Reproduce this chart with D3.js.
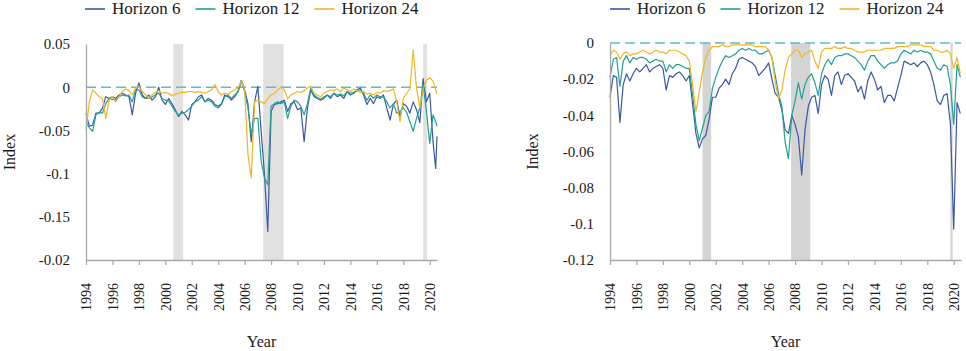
<!DOCTYPE html>
<html>
<head>
<meta charset="utf-8">
<script src="https://cdn.jsdelivr.net/npm/d3@7"></script>
<style>
  body { margin: 0; background: #fff; }
  svg text { font-family: "Liberation Serif", "DejaVu Serif", serif !important; fill: #1a1a1a; }
</style>
</head>
<body>
<div id="chart"></div>
<script>
// two panels of the same index, three forecast horizons each
var seriesNames = ['Horizon 6', 'Horizon 12', 'Horizon 24'];
var yearTicks = d3.range(1994, 2021, 2);

// left panel, quarterly readings (last two points are mid-2020)
var leftDates = d3.range(1994, 2020.3, 0.25).concat([2020.45, 2020.55]);
var leftH6 = [
  -0.030, -0.045, -0.044, -0.030,
  -0.030, -0.024, -0.011, -0.013,
  -0.011, -0.013, -0.009, -0.007,
  -0.009, -0.011, -0.032, -0.007,
   0.005, -0.009, -0.013, -0.009,
  -0.015, -0.011,  0.000, -0.015,
  -0.020, -0.013, -0.019, -0.026,
  -0.034, -0.028, -0.032, -0.038,
  -0.020, -0.017, -0.011, -0.009,
  -0.017, -0.013, -0.015, -0.020,
  -0.022, -0.019, -0.009, -0.011,
  -0.015, -0.011, -0.005,  0.008,
  -0.003, -0.019, -0.063, -0.017,
   0.001, -0.051, -0.101, -0.167,
  -0.028, -0.020, -0.019, -0.017,
  -0.015, -0.028, -0.019, -0.017,
  -0.026, -0.024, -0.063, -0.024,
  -0.003, -0.011, -0.013, -0.015,
  -0.013, -0.009, -0.013, -0.007,
  -0.011, -0.009, -0.013, -0.005,
  -0.009, -0.007, -0.003, -0.001,
  -0.009, -0.020, -0.013, -0.019,
  -0.011, -0.013, -0.009, -0.024,
  -0.038, -0.020, -0.015, -0.034,
  -0.019, -0.022, -0.030, -0.017,
  -0.026, -0.041,  0.010, -0.017,
  -0.007, -0.063, -0.094, -0.057
];
var leftH12 = [
  -0.040, -0.047, -0.051, -0.032,
  -0.029, -0.030, -0.019, -0.013,
  -0.014, -0.015, -0.011, -0.009,
  -0.010, -0.009, -0.017, -0.003,
  -0.003, -0.011, -0.013, -0.013,
  -0.011, -0.009, -0.007, -0.013,
  -0.015, -0.016, -0.022, -0.028,
  -0.032, -0.030, -0.029, -0.026,
  -0.022, -0.017, -0.015, -0.011,
  -0.017, -0.015, -0.017, -0.022,
  -0.024, -0.020, -0.011, -0.009,
  -0.013, -0.009, -0.005,  0.007,
  -0.005, -0.024, -0.055, -0.036,
  -0.036, -0.086, -0.105, -0.113,
  -0.022, -0.019, -0.017, -0.019,
  -0.017, -0.036, -0.022, -0.015,
  -0.017, -0.022, -0.032, -0.019,
  -0.001, -0.009, -0.012, -0.014,
  -0.011, -0.009, -0.011, -0.007,
  -0.009, -0.008, -0.010, -0.005,
  -0.007, -0.006, -0.004, -0.003,
  -0.007, -0.015, -0.009, -0.013,
  -0.009, -0.011, -0.011, -0.017,
  -0.024, -0.019, -0.030, -0.028,
  -0.024, -0.029, -0.040, -0.051,
  -0.036, -0.024,  0.003, -0.028,
  -0.065, -0.032, -0.040, -0.045
];
var leftH24 = [
  -0.050, -0.017, -0.003, -0.007,
  -0.011, -0.013, -0.036, -0.015,
  -0.011, -0.017, -0.011, -0.005,
  -0.002, -0.004, -0.009, -0.001,
   0.001, -0.005, -0.009, -0.013,
  -0.009, -0.006, -0.004, -0.007,
  -0.006, -0.007, -0.010, -0.008,
  -0.007, -0.006, -0.006, -0.005,
  -0.005, -0.006, -0.005, -0.006,
  -0.007, -0.005, -0.003,  0.003,
  -0.005, -0.009, -0.007, -0.008,
  -0.005, -0.003, -0.001,  0.007,
  -0.003, -0.078, -0.105, -0.017,
  -0.015, -0.017, -0.019, -0.013,
  -0.009, -0.007, -0.003,  0.000,
  -0.003, -0.013, -0.009, -0.007,
  -0.005, -0.006, -0.004, -0.001,
   0.001, -0.007, -0.009, -0.011,
  -0.007, -0.005, -0.003, -0.004,
  -0.002, -0.005, -0.001, -0.003,
  -0.005, -0.002, -0.004, -0.006,
  -0.005, -0.008, -0.007, -0.009,
  -0.006, -0.007, -0.004, -0.005,
  -0.004, -0.002, -0.017, -0.040,
  -0.013, -0.007, -0.002,  0.043,
  -0.001, -0.024, -0.003,  0.008,
   0.011,  0.007, -0.003, -0.008
];
var leftRecessions = [[2000.6, 2001.35], [2007.4, 2008.95], [2019.5, 2019.8]];
var leftYTicks = [0.05, 0, -0.05, -0.1, -0.15, -0.2];
var leftYLabels = ['0.05', '0', '-0.05', '-0.1', '-0.15', '-0.02'];

// right panel, quarterly readings
var rightDates = d3.range(1994, 2020.51, 0.25);
var rightH6 = [
  -0.030, -0.018, -0.019, -0.044,
  -0.023, -0.017, -0.021, -0.017,
  -0.014, -0.016, -0.014, -0.012,
  -0.016, -0.014, -0.013, -0.012,
  -0.014, -0.026, -0.018, -0.019,
  -0.017, -0.016, -0.018, -0.021,
  -0.018, -0.034, -0.050, -0.058,
  -0.053, -0.051, -0.042, -0.030,
  -0.030, -0.025, -0.023, -0.020,
  -0.023, -0.017, -0.014, -0.009,
  -0.008, -0.009, -0.010, -0.011,
  -0.013, -0.018, -0.016, -0.014,
  -0.011, -0.020, -0.028, -0.030,
  -0.037, -0.048, -0.050, -0.040,
  -0.045, -0.052, -0.073, -0.048,
  -0.035, -0.030, -0.029, -0.039,
  -0.023, -0.018, -0.020, -0.029,
  -0.018, -0.016, -0.023, -0.018,
  -0.017, -0.019, -0.021, -0.027,
  -0.024, -0.031, -0.021, -0.016,
  -0.020, -0.026, -0.024, -0.033,
  -0.029, -0.029, -0.032, -0.025,
  -0.018, -0.010, -0.011, -0.012,
  -0.011, -0.013, -0.011, -0.010,
  -0.012, -0.016, -0.023, -0.032,
  -0.034, -0.029, -0.028, -0.045,
  -0.103, -0.033, -0.039
];
var rightH12 = [
  -0.019, -0.009, -0.008, -0.024,
  -0.010, -0.007, -0.011, -0.008,
  -0.009, -0.008, -0.008, -0.009,
  -0.011, -0.010, -0.009, -0.010,
  -0.010, -0.016, -0.012, -0.014,
  -0.012, -0.012, -0.013, -0.014,
  -0.014, -0.029, -0.045, -0.054,
  -0.047, -0.040, -0.038, -0.025,
  -0.019, -0.014, -0.010, -0.007,
  -0.008, -0.007, -0.006, -0.004,
  -0.003, -0.004, -0.003, -0.004,
  -0.004, -0.006, -0.006, -0.005,
  -0.004, -0.008, -0.018, -0.028,
  -0.035, -0.055, -0.064, -0.040,
  -0.032, -0.022, -0.031, -0.023,
  -0.019, -0.017, -0.022, -0.029,
  -0.017, -0.012, -0.009, -0.012,
  -0.008, -0.007, -0.007, -0.006,
  -0.006, -0.007, -0.008, -0.010,
  -0.012, -0.015, -0.010, -0.007,
  -0.007, -0.010, -0.012, -0.014,
  -0.012, -0.011, -0.011, -0.010,
  -0.006, -0.004, -0.005, -0.006,
  -0.004, -0.005, -0.004, -0.005,
  -0.005, -0.006, -0.010, -0.014,
  -0.015, -0.012, -0.013, -0.023,
  -0.045, -0.012, -0.019
];
var rightH24 = [
  -0.007, -0.004, -0.005, -0.009,
  -0.006, -0.005, -0.007, -0.006,
  -0.006, -0.005, -0.004, -0.005,
  -0.006, -0.005, -0.004, -0.005,
  -0.005, -0.006, -0.004, -0.004,
  -0.004, -0.005, -0.006, -0.007,
  -0.010, -0.023, -0.038, -0.027,
  -0.016, -0.008, -0.004, -0.002,
  -0.002, -0.002, -0.001, -0.002,
  -0.002, -0.001, -0.001, -0.001,
  -0.001, -0.001, -0.001, -0.001,
  -0.002, -0.002, -0.002, -0.002,
  -0.004, -0.008, -0.022, -0.031,
  -0.026, -0.015, -0.008, -0.006,
  -0.004, -0.004, -0.008, -0.006,
  -0.005, -0.004, -0.010, -0.014,
  -0.005, -0.003, -0.003, -0.003,
  -0.002, -0.003, -0.003, -0.002,
  -0.003, -0.003, -0.004, -0.005,
  -0.005, -0.005, -0.004, -0.004,
  -0.004, -0.004, -0.004, -0.003,
  -0.003, -0.003, -0.003, -0.002,
  -0.002, -0.002, -0.002, -0.001,
  -0.001, -0.001, -0.001, -0.002,
  -0.002, -0.002, -0.004, -0.004,
  -0.005, -0.005, -0.004, -0.006,
  -0.014, -0.008, -0.017
];
var rightRecessions = [[2001.0, 2001.65], [2007.7, 2009.15], [2019.75, 2019.92]];
var rightYTicks = [0, -0.02, -0.04, -0.06, -0.08, -0.1, -0.12];
var rightYLabels = ['0', '-0.02', '-0.04', '-0.06', '-0.08', '-0.1', '-0.12'];

var colors = ['#3c58a5', '#22a192', '#f0b722'];
var axisColor = '#a9a9a9';

var svg = d3.select('#chart').append('svg')
    .attr('width', 966)
    .attr('height', 351);

function drawPanel(p) {
    var g = svg.append('g');

    var x = d3.scaleLinear()
        .domain([1994, 2020.55])
        .range([p.left, p.right]);
    var y = d3.scaleLinear()
        .domain([p.yTicks[p.yTicks.length - 1], p.yTicks[0]])
        .range([p.bottom, p.top]);

    // recession bands
    g.selectAll('rect.band').data(p.bands)
        .enter().append('rect')
        .attr('x', function(d) { return x(d[0]); })
        .attr('width', function(d) { return x(d[1]) - x(d[0]); })
        .attr('y', p.top)
        .attr('height', p.bottom - p.top)
        .style('fill', p.bandColor);

    // zero line
    g.append('line')
        .attr('x1', x(1994)).attr('x2', p.right)
        .attr('y1', y(0)).attr('y2', y(0))
        .style('stroke', '#5bbccb')
        .style('stroke-width', 1.4)
        .style('stroke-dasharray', '10,5');

    // series
    var line = d3.line()
        .x(function(d) { return x(d[0]); })
        .y(function(d) { return y(d[1]); });

    p.series.forEach(function(vals, i) {
        g.append('path')
            .datum(p.dates.map(function(t, j) { return [t, vals[j]]; }))
            .attr('d', line)
            .style('fill', 'none')
            .style('stroke', colors[i])
            .style('stroke-width', 1.2)
            .style('stroke-linejoin', 'round');
    });

    // y axis
    var yAxis = d3.axisLeft(y)
        .tickValues(p.yTicks)
        .tickSize(0)
        .tickPadding(16)
        .tickFormat(function(d, i) { return p.yLabels[i]; });
    var ya = g.append('g')
        .attr('transform', 'translate(' + p.left + ',0)')
        .call(yAxis)
        .attr('font-family', null);
    ya.select('.domain').style('stroke', axisColor).style('stroke-width', 1.3);
    ya.selectAll('text')
        .style('font-size', '15px');

    // x axis
    var xAxis = d3.axisBottom(x)
        .tickValues(yearTicks)
        .tickSizeInner(5)
        .tickSizeOuter(0)
        .tickFormat(d3.format('d'));
    var xa = g.append('g')
        .attr('transform', 'translate(0,' + p.bottom + ')')
        .call(xAxis)
        .attr('font-family', null);
    xa.select('.domain').style('stroke', axisColor).style('stroke-width', 1.3);
    xa.selectAll('line').style('stroke', axisColor).style('stroke-width', 1.2);
    xa.selectAll('text')
        .attr('transform', 'rotate(-90)')
        .attr('y', 0)
        .attr('x', -23)
        .attr('dy', '0.35em')
        .style('text-anchor', 'end')
        .style('font-size', '14px');

    // titles
    g.append('text')
        .attr('x', (p.left + p.right) / 2)
        .attr('y', 347)
        .attr('text-anchor', 'middle')
        .style('font-size', '16px')
        .text('Year');
    g.append('text')
        .attr('transform', 'translate(' + p.indexX + ',' + ((p.top + p.bottom) / 2) + ') rotate(-90)')
        .attr('text-anchor', 'middle')
        .style('font-size', '16px')
        .text('Index');

    // legend
    var lx = p.legendX;
    seriesNames.forEach(function(name, i) {
        g.append('line')
            .attr('x1', lx).attr('x2', lx + 20)
            .attr('y1', 9).attr('y2', 9)
            .style('stroke', colors[i])
            .style('stroke-width', 1.6);
        var t = g.append('text')
            .attr('x', lx + 27)
            .attr('y', 14)
            .style('font-size', '17px')
            .text(name);
        lx = lx + 27 + t.node().getComputedTextLength() + 15;
    });
}

drawPanel({
    left: 86, right: 437, top: 44, bottom: 260,
    dates: leftDates,
    series: [leftH6, leftH12, leftH24],
    bands: leftRecessions, bandColor: '#e3e0e0',
    yTicks: leftYTicks, yLabels: leftYLabels,
    indexX: 15, legendX: 85
});

drawPanel({
    left: 610, right: 961, top: 43, bottom: 260,
    dates: rightDates,
    series: [rightH6, rightH12, rightH24],
    bands: rightRecessions, bandColor: '#d4d4d4',
    yTicks: rightYTicks, yLabels: rightYLabels,
    indexX: 538, legendX: 610
});
</script>
</body>
</html>
